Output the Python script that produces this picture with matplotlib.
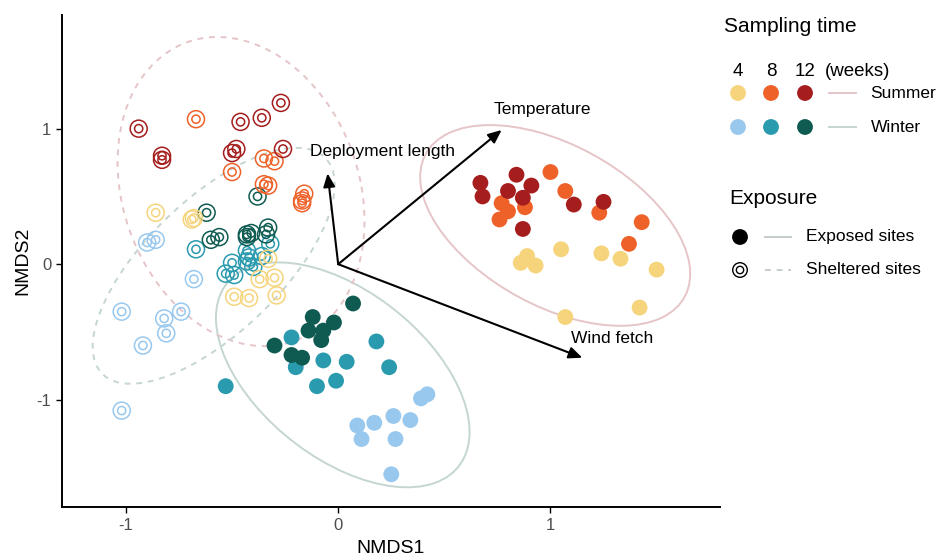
import numpy as np
import matplotlib.pyplot as plt
from matplotlib.patches import Ellipse

plt.rcParams['font.family'] = ['Liberation Sans', 'DejaVu Sans']

# colours per sampling time (4, 8, 12 weeks)
summer_cols = ['#F6D47C', '#EE6229', '#A51D1D']
winter_cols = ['#98C8EE', '#2A9AAE', '#0F5B51']
summer_ell = '#E6C5C8'
winter_ell = '#C5D6D2'

# exposed sites, summer
es4_x = [0.89, 0.86, 0.93, 1.05, 1.24, 1.33, 1.50, 1.42, 1.07]
es4_y = [0.06, 0.01, -0.01, 0.11, 0.08, 0.04, -0.04, -0.32, -0.39]
es8_x = [1.00, 1.07, 0.77, 0.80, 0.76, 0.88, 1.23, 1.43, 1.37]
es8_y = [0.68, 0.54, 0.45, 0.39, 0.33, 0.42, 0.38, 0.31, 0.15]
es12_x = [0.67, 0.68, 0.84, 0.80, 0.91, 0.87, 1.11, 1.25, 0.87]
es12_y = [0.60, 0.50, 0.66, 0.54, 0.58, 0.49, 0.44, 0.46, 0.26]

# exposed sites, winter
ew4_x = [0.42, 0.39, 0.26, 0.34, 0.09, 0.17, 0.11, 0.27, 0.25]
ew4_y = [-0.96, -0.99, -1.12, -1.15, -1.19, -1.17, -1.29, -1.29, -1.55]
ew8_x = [-0.22, -0.20, -0.07, 0.04, 0.18, 0.24, -0.01, -0.10, -0.53]
ew8_y = [-0.54, -0.76, -0.71, -0.72, -0.57, -0.76, -0.86, -0.90, -0.90]
ew12_x = [0.07, -0.12, -0.02, -0.14, -0.07, -0.08, -0.30, -0.22, -0.17]
ew12_y = [-0.29, -0.39, -0.43, -0.49, -0.49, -0.56, -0.60, -0.67, -0.69]

# sheltered sites, summer
ss4_x = [-0.86, -0.68, -0.69, -0.33, -0.37, -0.30, -0.49, -0.42, -0.29]
ss4_y = [0.38, 0.34, 0.33, 0.04, -0.11, -0.10, -0.24, -0.25, -0.23]
ss8_x = [-0.67, -0.35, -0.30, -0.50, -0.35, -0.33, -0.16, -0.17, -0.17]
ss8_y = [1.07, 0.78, 0.76, 0.68, 0.59, 0.58, 0.52, 0.47, 0.45]
ss12_x = [-0.94, -0.83, -0.83, -0.46, -0.36, -0.27, -0.48, -0.50, -0.26]
ss12_y = [1.00, 0.80, 0.77, 1.05, 1.08, 1.19, 0.85, 0.82, 0.85]

# sheltered sites, winter
sw4_x = [-0.90, -0.86, -0.68, -1.02, -0.74, -0.82, -0.81, -0.92, -1.02]
sw4_y = [0.16, 0.18, -0.11, -0.35, -0.35, -0.40, -0.51, -0.60, -1.08]
sw8_x = [-0.67, -0.32, -0.43, -0.42, -0.43, -0.50, -0.40, -0.53, -0.49, -0.36]
sw8_y = [0.11, 0.15, 0.10, 0.05, 0.02, 0.01, -0.02, -0.07, -0.08, 0.06]
sw12_x = [-0.38, -0.62, -0.56, -0.60, -0.43, -0.41, -0.33, -0.34, -0.43]
sw12_y = [0.50, 0.38, 0.20, 0.18, 0.22, 0.23, 0.27, 0.22, 0.20]

# environmental vectors
env_names = ['Deployment length', 'Temperature', 'Wind fetch']
env_x = [-0.05, 0.77, 1.15]
env_y = [0.67, 0.99, -0.69]
lab_x = [0.21, 0.96, 1.29]
lab_y = [0.83, 1.14, -0.55]


def conf_ellipse(ax, xs, ys, color, ls, level=0.95):
    pts = np.column_stack([xs, ys])
    n = len(pts)
    mu = pts.mean(axis=0)
    cov = np.cov(pts.T)
    d = n - 1
    fq = d / 2 * ((1 - level) ** (-2 / d) - 1)
    r = np.sqrt(2 * fq)
    vals, vecs = np.linalg.eigh(cov)
    ang = np.degrees(np.arctan2(vecs[1, 1], vecs[0, 1]))
    e = Ellipse(mu, 2 * r * np.sqrt(vals[1]), 2 * r * np.sqrt(vals[0]), angle=ang,
                fill=False, edgecolor=color, lw=1.4, ls=ls, zorder=1)
    ax.add_patch(e)


fig = plt.figure(figsize=(9.37, 5.58), dpi=100)
ax = fig.add_axes([0.066, 0.091, 0.702, 0.882])

conf_ellipse(ax, es4_x + es8_x + es12_x, es4_y + es8_y + es12_y, summer_ell, '-')
conf_ellipse(ax, ew4_x + ew8_x + ew12_x, ew4_y + ew8_y + ew12_y, winter_ell, '-')
conf_ellipse(ax, ss4_x + ss8_x + ss12_x, ss4_y + ss8_y + ss12_y, summer_ell, (0, (3, 3)))
conf_ellipse(ax, sw4_x + sw8_x + sw12_x, sw4_y + sw8_y + sw12_y, winter_ell, (0, (3, 3)))

for xs, ys, c in [(sw4_x, sw4_y, winter_cols[0]), (sw8_x, sw8_y, winter_cols[1]),
                  (sw12_x, sw12_y, winter_cols[2]), (ss4_x, ss4_y, summer_cols[0]),
                  (ss8_x, ss8_y, summer_cols[1]), (ss12_x, ss12_y, summer_cols[2])]:
    ax.scatter(xs, ys, s=150, facecolors='none', edgecolors=c, linewidths=1.1, zorder=3)
    ax.scatter(xs, ys, s=35, facecolors='none', edgecolors=c, linewidths=1.1, zorder=3)

for xs, ys, c in [(es4_x, es4_y, summer_cols[0]), (es8_x, es8_y, summer_cols[1]),
                  (es12_x, es12_y, summer_cols[2]), (ew4_x, ew4_y, winter_cols[0]),
                  (ew8_x, ew8_y, winter_cols[1]), (ew12_x, ew12_y, winter_cols[2])]:
    ax.scatter(xs, ys, s=130, color=c, edgecolors='none', zorder=4)

for name, x, y, lx, ly in zip(env_names, env_x, env_y, lab_x, lab_y):
    ax.annotate('', xy=(x, y), xytext=(0, 0),
                arrowprops=dict(arrowstyle='-|>,head_length=0.8,head_width=0.35',
                                color='black', lw=1.5, shrinkA=0, shrinkB=0), zorder=5)
    ax.text(lx, ly, name, ha='center', va='center', fontsize=12.5, zorder=6)

ax.set_xlim(-1.302, 1.797)
ax.set_ylim(-1.793, 1.838)
ax.set_xticks([-1, 0, 1])
ax.set_yticks([-1, 0, 1])
ax.set_xticklabels(['-1', '0', '1'])
ax.set_yticklabels(['-1', '0', '1'])
for s in ['top', 'right']:
    ax.spines[s].set_visible(False)
for s in ['left', 'bottom']:
    ax.spines[s].set_linewidth(1.4)
ax.tick_params(labelsize=12, labelcolor='#4D4D4D', width=1, length=4)
ax.set_xlabel('NMDS1', fontsize=14, labelpad=5)
ax.set_ylabel('NMDS2', fontsize=14)

# legend drawn manually in figure pixels
lg = fig.add_axes([0, 0, 1, 1], facecolor='none')
lg.set_xlim(0, 937)
lg.set_ylim(558, 0)
lg.axis('off')

lg.text(724, 27, 'Sampling time', fontsize=15, va='center', ha='left')
weeks = ['4', '8', '12']
wx = [738, 771, 805]
for w, x in zip(weeks, wx):
    lg.text(x, 71, w, fontsize=13.5, ha='center', va='center')
lg.text(825, 71, '(weeks)', fontsize=13.5, ha='left', va='center')
lg.scatter(wx, [93] * 3, s=130, color=summer_cols, edgecolors='none')
lg.scatter(wx, [127] * 3, s=130, color=winter_cols, edgecolors='none')
lg.plot([829, 856], [93, 93], color=summer_ell, lw=1.4)
lg.plot([829, 856], [127, 127], color=winter_ell, lw=1.4)
lg.text(870, 93, 'Summer', fontsize=12.5, va='center')
lg.text(871, 128, 'Winter', fontsize=12.5, va='center')

lg.text(729, 199, 'Exposure', fontsize=15, va='center', ha='left')
lg.scatter([740], [237], s=130, color='black', edgecolors='none')
lg.plot([765, 791], [237, 237], color='#C5CCCC', lw=1.4)
lg.text(806, 237, 'Exposed sites', fontsize=12.5, va='center')
lg.scatter([740], [270], s=110, facecolors='none', edgecolors='black', linewidths=1.0)
lg.scatter([740], [270], s=28, facecolors='none', edgecolors='black', linewidths=1.0)
lg.plot([765, 791], [270, 270], color='#C5CCCC', lw=1.4, ls=(0, (3, 3)))
lg.text(806, 270, 'Sheltered sites', fontsize=12.5, va='center')

fig.savefig('out.png', dpi=100)
